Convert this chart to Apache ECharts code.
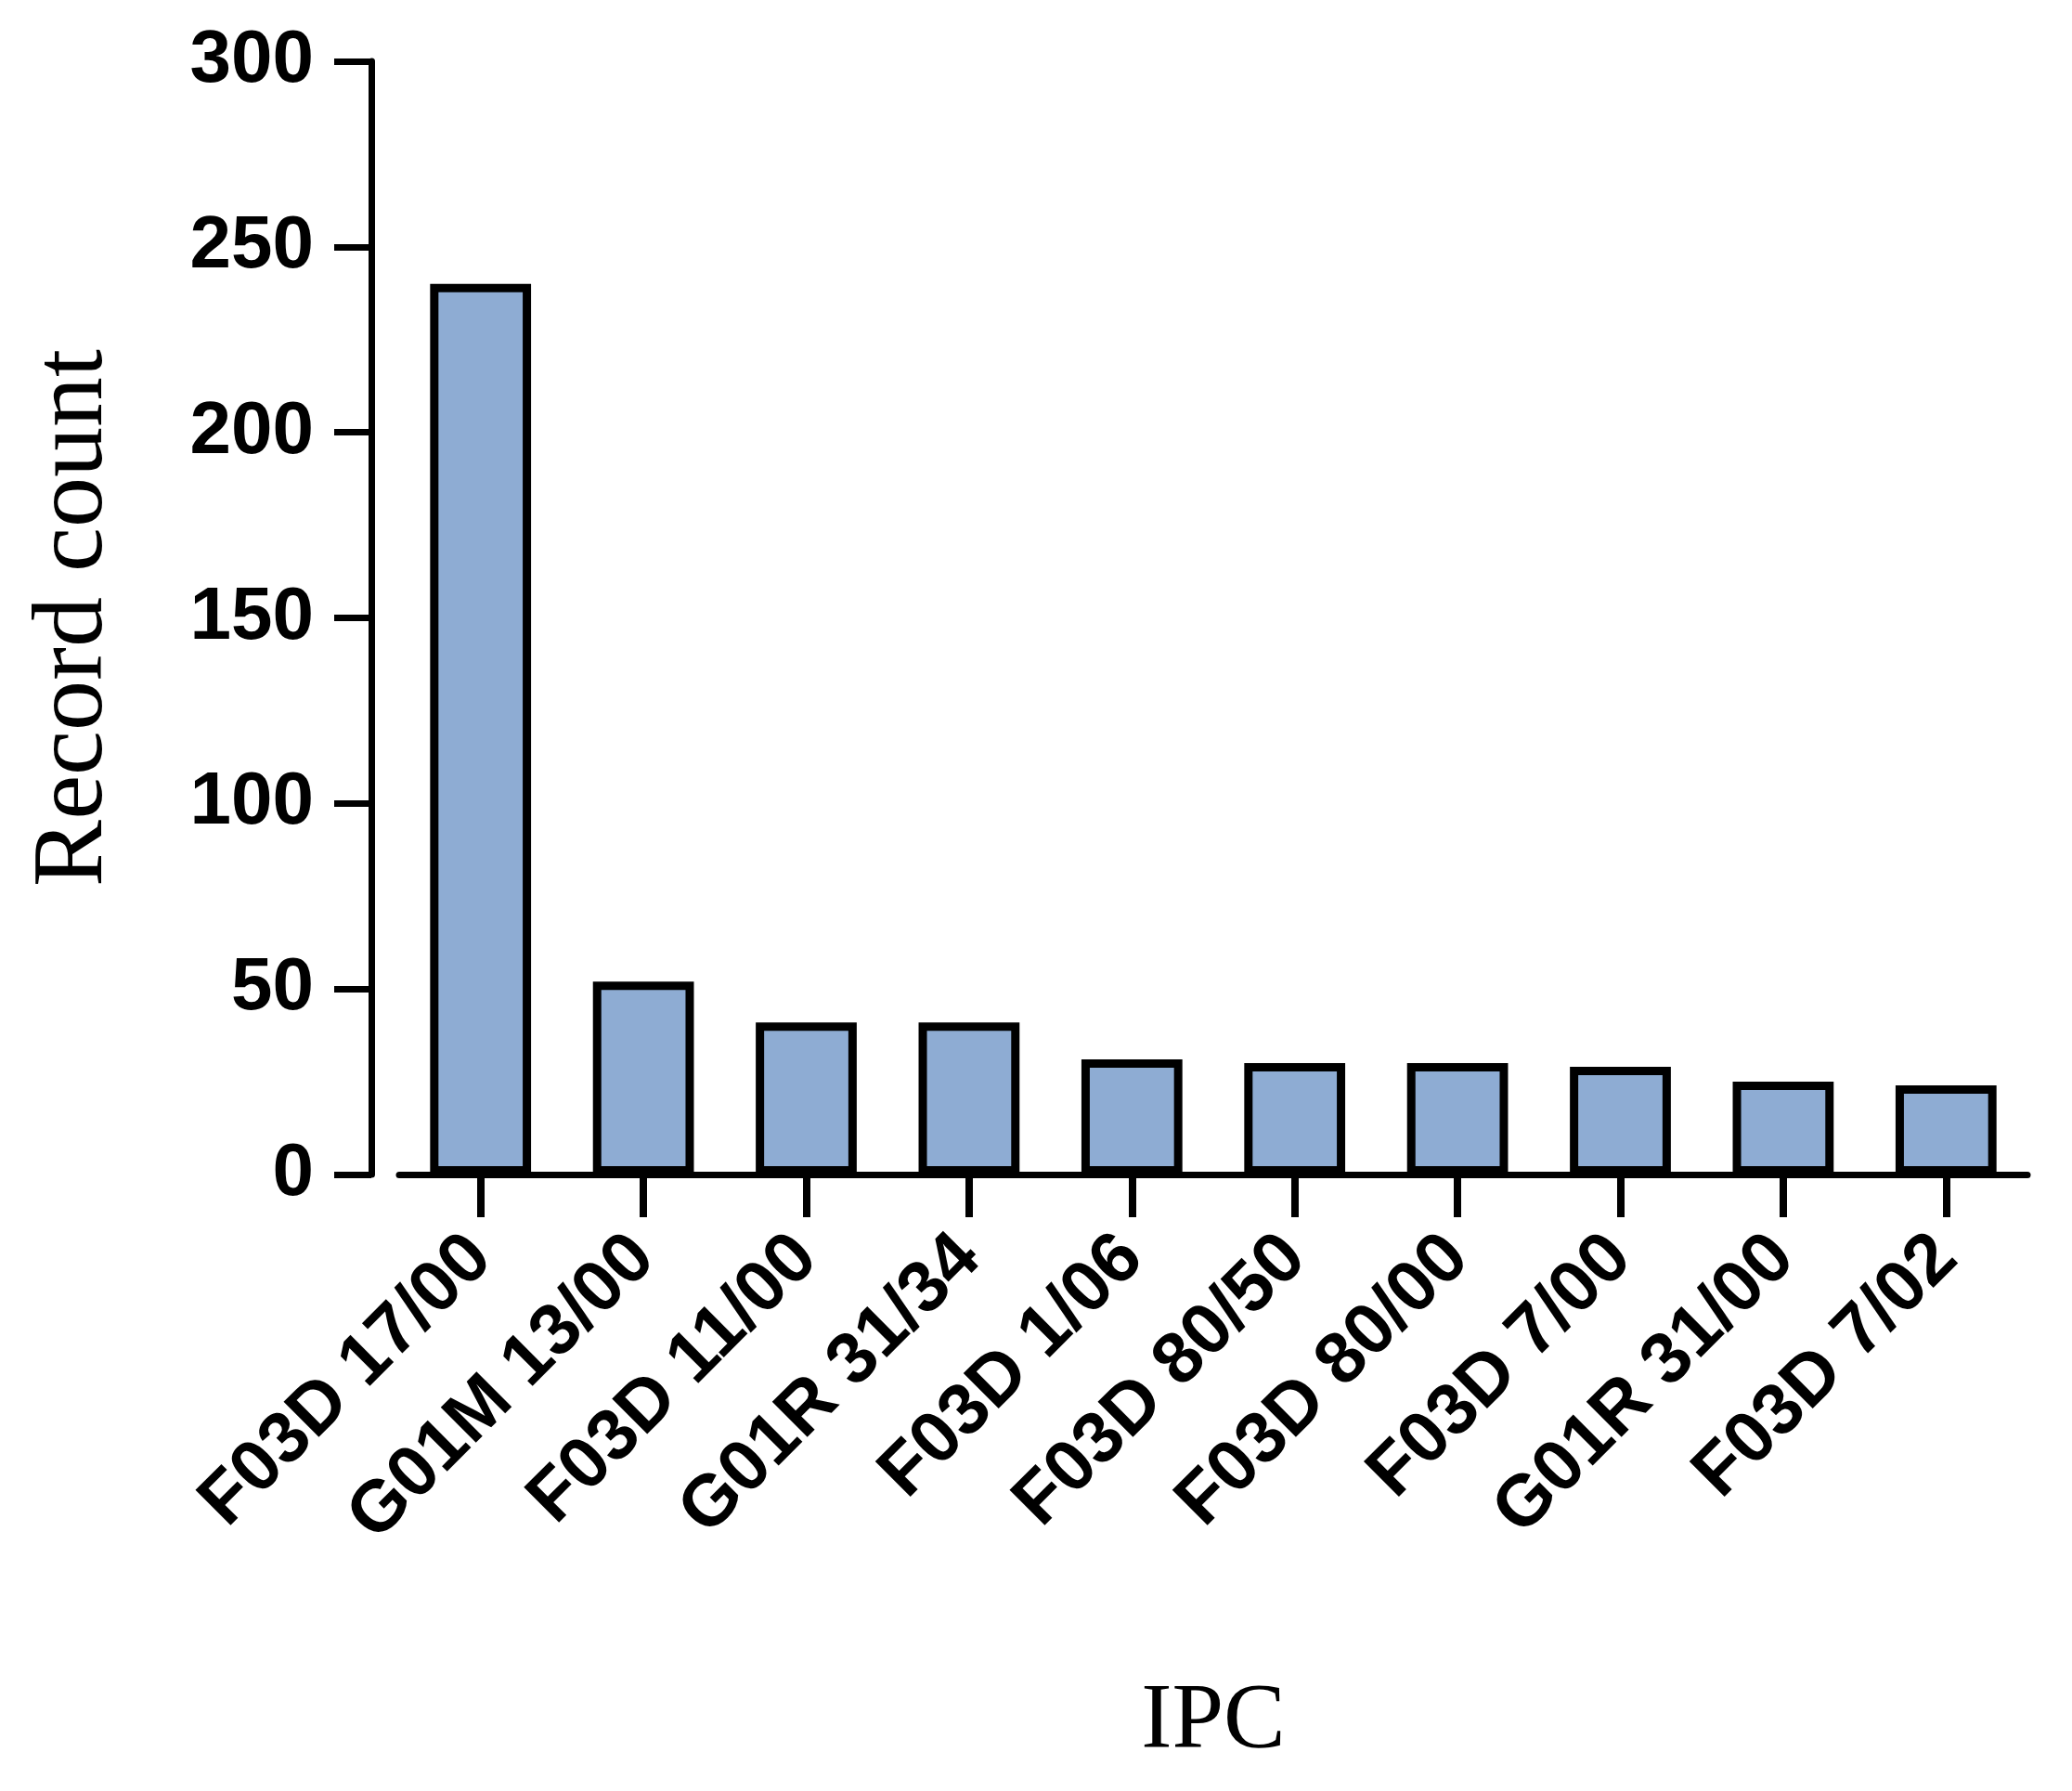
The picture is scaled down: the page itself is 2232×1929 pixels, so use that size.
<!DOCTYPE html>
<html>
<head>
<meta charset="utf-8">
<script src="https://cdn.jsdelivr.net/npm/echarts/dist/echarts.min.js"></script>
<style>body{margin:0;background:#fff}#main{width:2232px;height:1929px}</style>
</head>
<body>
<div id="main"></div>
<script>
var categories = ['F03D 17/00', 'G01M 13/00', 'F03D 11/00', 'G01R 31/34', 'F03D 1/06',
    'F03D 80/50', 'F03D 80/00', 'F03D 7/00', 'G01R 31/00', 'F03D 7/02'];
var counts = [240, 52, 41, 41, 31, 30, 30, 29, 25, 24];
var yTicks = [0, 50, 100, 150, 200, 250, 300];

var chart = echarts.init(document.getElementById('main'));
chart.setOption({
    animation: false,
    grid: { left: 430, right: 48, top: 66, bottom: 664 },
    xAxis: {
        type: 'category',
        data: categories,
        name: 'IPC',
        nameLocation: 'middle',
        nameGap: 540,
        nameTextStyle: { fontFamily: 'Liberation Serif', fontSize: 100, color: '#000' },
        axisLine: { lineStyle: { color: '#000', width: 7 } },
        axisTick: { show: true, interval: 0, alignWithLabel: true, length: 46, lineStyle: { color: '#000', width: 8 } },
        axisLabel: {
            rotate: 45, margin: 78, interval: 0,
            fontFamily: 'Liberation Sans', fontWeight: 'bold', fontSize: 78, color: '#000'
        }
    },
    yAxis: {
        type: 'value',
        min: 0, max: 300, interval: 50,
        offset: 30,
        name: 'Record count',
        nameLocation: 'middle',
        nameGap: 265,
        nameTextStyle: { fontFamily: 'Liberation Serif', fontSize: 108, color: '#000' },
        axisLine: { show: true, lineStyle: { color: '#000', width: 7 } },
        axisTick: { show: true, length: 40, lineStyle: { color: '#000', width: 7 } },
        splitLine: { show: false },
        axisLabel: {
            margin: 62,
            fontFamily: 'Liberation Sans', fontWeight: 'bold', fontSize: 80, color: '#000',
            formatter: function (v) { return yTicks.indexOf(v) >= 0 ? String(v) : ''; }
        }
    },
    series: [{
        type: 'bar',
        data: counts,
        barWidth: '62%',
        itemStyle: { color: '#8eacd3', borderColor: '#000', borderWidth: 9 }
    }]
});
</script>
</body>
</html>
